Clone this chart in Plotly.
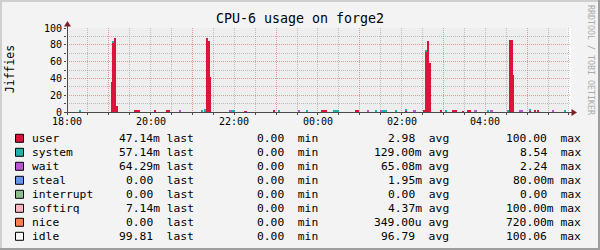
import plotly.graph_objects as go
from datetime import datetime, timedelta

# ---------------- data ----------------
START = datetime(2024, 1, 1, 18, 0, 0)
END = START + timedelta(minutes=723)
DATA_END = START + timedelta(minutes=718)
STEP_S = 144          # seconds per consolidated sample
OFFSET_S = 48         # first sample start after START

# sample index -> value (Jiffies); samples not listed are ~0
user_k = [26, 27, 28, 29, 40, 41, 42, 52, 59, 60, 83, 84, 85, 106, 123,
          152, 153, 154, 172, 173, 202, 213, 214, 215, 216, 223, 230, 231, 232,
          236, 239, 240, 264, 265, 266, 276, 279, 281]
user_v = [35.7, 83.0, 88.5, 7.0, 1.5, 1.5, 2.8, 1.5, 1.5, 1.5, 88.5, 84.5, 42.0, 1.0, 1.5,
          1.5, 2.8, 1.5, 1.5, 1.5, 1.2, 2.0, 71.5, 84.5, 58.7, 1.5, 1.5, 1.5, 1.5,
          1.0, 1.5, 1.5, 85.7, 85.7, 44.0, 1.2, 1.5, 1.5]
system_k = [7, 27, 80, 82, 98, 99, 126, 143, 159, 160, 161, 184, 188, 189, 190,
            196, 202, 214, 226, 251, 263, 276, 297]
system_v = [1.5, 1.5, 1.5, 3.0, 1.5, 1.5, 1.5, 1.5, 1.5, 1.5, 1.5, 1.5, 1.5, 1.5, 1.5,
            1.5, 1.5, 1.5, 1.5, 1.5, 1.5, 1.8, 1.5]
wait_k = [67, 97, 138, 179, 187, 207, 243, 244, 253, 270, 271, 290]
wait_v = [1.5, 1.5, 1.5, 1.5, 1.5, 1.5, 1.5, 1.5, 1.5, 1.5, 1.5, 1.5]

x_label_times = [START + timedelta(hours=h) for h in (0, 2, 4, 6, 8, 10)]
x_labels = ["18:00", "20:00", "22:00", "00:00", "02:00", "04:00"]

leg_names = ["user", "system", "wait", "steal", "interrupt", "softirq", "nice", "idle"]
leg_colors = ["#DC143C", "#20B2AA", "#BA55D3", "#6495ED", "#8FBC8F", "#FFB6C1", "#FF7F50", "#F7F7F7"]
leg_last = ["47.14m", "57.14m", "64.29m", "0.00", "0.00", "7.14m", "0.00", "99.81"]
leg_min = ["0.00", "0.00", "0.00", "0.00", "0.00", "0.00", "0.00", "0.00"]
leg_avg = ["2.98", "129.00m", "65.08m", "1.95m", "0.00", "4.37m", "349.00u", "96.79"]
leg_max = ["100.00", "8.54", "2.24", "80.00m", "0.00", "100.00m", "720.00m", "100.06"]

# ---------------- geometry ----------------
W, H = 600, 250
PL, PR, PT, PB = 67, 571, 28, 112


def px(x):
    return (x - PL) / (PR - PL)


def py(y):
    return (PB - y) / (PB - PT)


def t(k):
    return START + timedelta(seconds=OFFSET_S + k * STEP_S)


MONO = "DejaVu Sans Mono"
IDLE_BG = "#EEEEEE"
MGRID = "rgba(222,80,80,0.55)"
GRID = "rgba(143,143,143,0.55)"
AXIS = "#4A4A4A"
ARROW = "#7F1F1F"

fig = go.Figure()
for ks, vs, col in [(user_k, user_v, leg_colors[0]),
                    (system_k, system_v, leg_colors[1]),
                    (wait_k, wait_v, leg_colors[2])]:
    fig.add_bar(x=[t(k) for k in ks], y=vs, width=STEP_S * 1000, offset=0,
                marker=dict(color=col, line=dict(width=0)),
                showlegend=False, hoverinfo="skip")

shapes = []
# area with no data yet (canvas shows through)
shapes.append(dict(type="rect", xref="x", yref="paper", x0=DATA_END, x1=END, y0=0, y1=1,
                   fillcolor="#FFFFFF", line=dict(width=0), layer="below"))


def hline(x0, x1, y, color, w=1):
    shapes.append(dict(type="line", xref="paper", yref="paper", x0=px(x0), x1=px(x1),
                       y0=py(y), y1=py(y), line=dict(color=color, width=w)))


def vline(x, y0, y1, color, w=1):
    shapes.append(dict(type="line", xref="paper", yref="paper", x0=px(x), x1=px(x),
                       y0=py(y0), y1=py(y1), line=dict(color=color, width=w)))


def prect(x0, y0, x1, y1, fill, lc=None, lw=0):
    shapes.append(dict(type="rect", xref="paper", yref="paper", x0=px(x0), x1=px(x1),
                       y0=py(y0), y1=py(y1), fillcolor=fill,
                       line=dict(color=lc or fill, width=lw)))


# axes
hline(64, 573, 112.5, AXIS)
vline(67.5, 115, 25, AXIS)
# arrows
shapes.append(dict(type="path", xref="paper", yref="paper",
                   path="M %f,%f L %f,%f L %f,%f Z" % (px(571.5), py(109), px(577), py(112.5), px(571.5), py(116)),
                   fillcolor=ARROW, line=dict(color=ARROW, width=0)))
shapes.append(dict(type="path", xref="paper", yref="paper",
                   path="M %f,%f L %f,%f L %f,%f Z" % (px(64), py(26.5), px(67.5), py(21), px(71), py(26.5)),
                   fillcolor=ARROW, line=dict(color=ARROW, width=0)))
# frame
prect(0, 0, 600, 2, "#CFCFCF")
prect(0, 0, 2, 250, "#CFCFCF")
prect(0, 248, 600, 250, "#9E9E9E")
prect(598, 0, 600, 250, "#9E9E9E")

annotations = []


def text(x, y, s, size=11.3, anchor="left", color="#000000", angle=0):
    annotations.append(dict(xref="paper", yref="paper", x=px(x), y=py(y), text=s,
                            showarrow=False, xanchor=anchor, yanchor="middle",
                            textangle=angle,
                            font=dict(family=MONO, size=size, color=color)))


text(300, 18.5, "CPU-6 usage on forge2", size=13.3, anchor="center")
text(10, 69, "Jiffies", size=11.4, anchor="center", angle=-90)
text(591, 60, "RRDTOOL / TOBI OETIKER", size=8.3, anchor="center", color="#AAAAAA", angle=90)

for tv, lab in zip(x_label_times, x_labels):
    annotations.append(dict(xref="x", yref="paper", x=tv, y=py(121), text=lab, showarrow=False,
                            xanchor="center", yanchor="middle",
                            font=dict(family=MONO, size=10, color="#000000")))

NB = "\u00a0"
for i, name in enumerate(leg_names):
    yc = 138.3 + 14.0 * i
    prect(15.5, yc - 4, 23.5, yc + 4, leg_colors[i], "#000000", 1)
    text(30, yc, name)

    def col(v, label):
        unit = v[-1] if v[-1].isalpha() else NB
        num = v[:-1] if v[-1].isalpha() else v
        return num + unit + NB + label
    text(195.5, yc, col(leg_last[i], "last"), anchor="right")
    text(319.5, yc, col(leg_min[i], "min"), anchor="right")
    text(450.5, yc, col(leg_avg[i], "avg"), anchor="right")
    text(583, yc, col(leg_max[i], "max"), anchor="right")

fig.update_layout(
    width=W, height=H,
    margin=dict(l=PL, r=W - PR, t=PT, b=H - PB, pad=0),
    paper_bgcolor="#F3F3F3", plot_bgcolor=IDLE_BG,
    barmode="stack", bargap=0,
    showlegend=False,
    shapes=shapes, annotations=annotations,
    xaxis=dict(type="date", range=[START, END], tickmode="linear",
               tick0=START + timedelta(hours=1), dtick=7200000,
               showticklabels=False, showgrid=True, gridcolor=MGRID, griddash="1px,1px", gridwidth=1,
               ticks="outside", ticklen=2, tickcolor=AXIS,
               minor=dict(tick0=START, dtick=1800000, showgrid=True, gridcolor=GRID,
                          griddash="1px,1px", gridwidth=1, ticks="outside", ticklen=2, tickcolor=AXIS),
               zeroline=False, showline=False, fixedrange=True),
    yaxis=dict(range=[0, 100], tickmode="linear", tick0=0, dtick=20,
               showgrid=True, gridcolor=MGRID, griddash="1px,1px", gridwidth=1,
               ticks="outside", ticklen=2, tickcolor=AXIS,
               tickfont=dict(family=MONO, size=10, color="#000000"),
               minor=dict(dtick=10, showgrid=True, gridcolor=GRID, griddash="1px,1px",
                          gridwidth=1, ticks="outside", ticklen=2, tickcolor=AXIS),
               zeroline=False, showline=False, fixedrange=True),
)

fig.write_html("out.html")
